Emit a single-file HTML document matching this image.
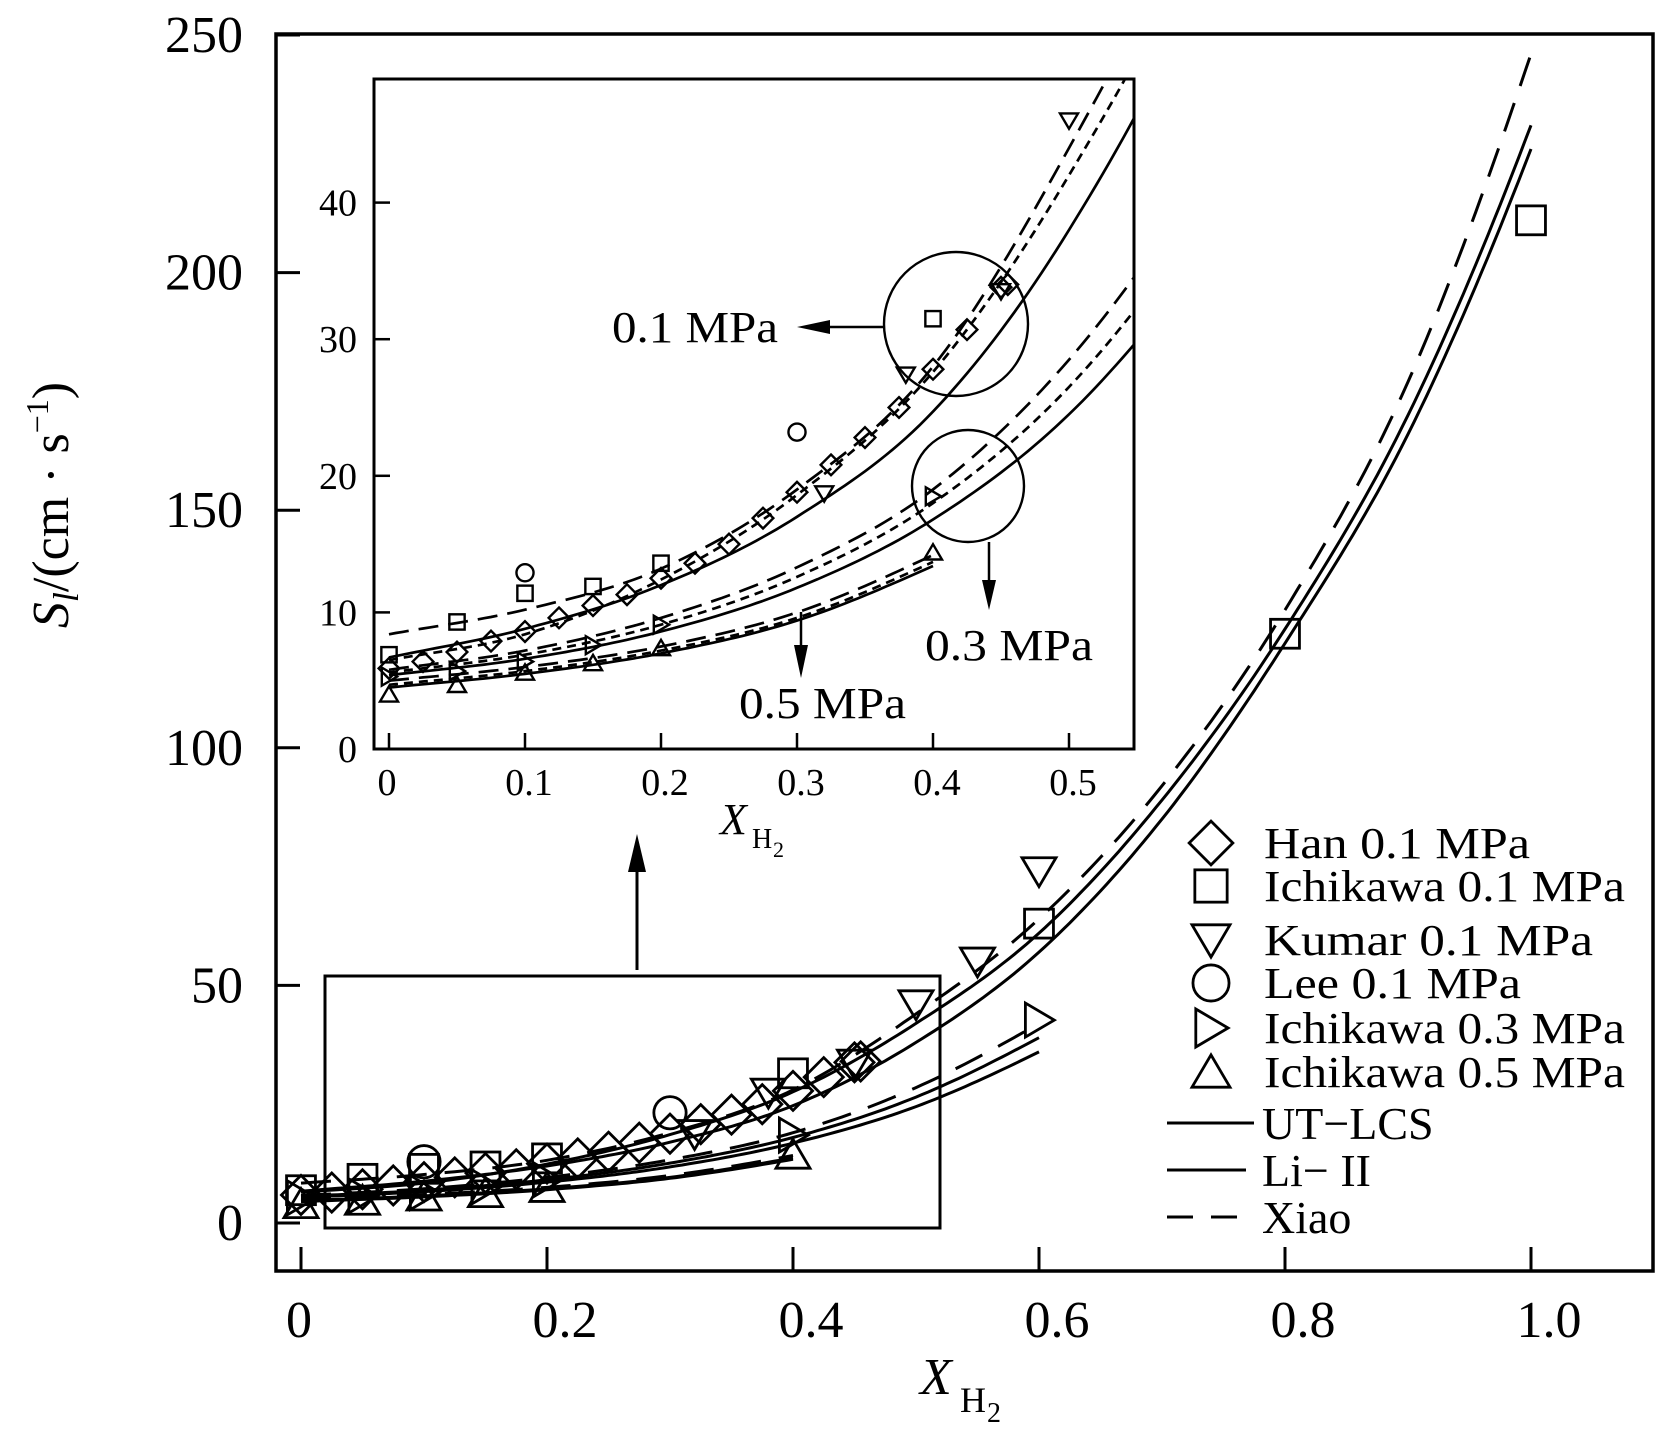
<!DOCTYPE html>
<html><head><meta charset="utf-8"><style>
html,body{margin:0;padding:0;background:#fff;}
svg{display:block;font-family:"Liberation Serif",serif;}
</style></head><body>
<svg id="chart" width="1656" height="1455" viewBox="0 0 1656 1455" xmlns="http://www.w3.org/2000/svg">
<defs>
<clipPath id="insetClip"><rect x="374" y="79" width="760" height="670"/></clipPath>
<clipPath id="mainClip"><rect x="276" y="34" width="1377" height="1237"/></clipPath>
</defs>
<g id="main"></g>
<g id="inset"></g>
<g id="legend"></g>
</svg>
<script>
// ---- data ----
const curveX = [0,0.1,0.2,0.3,0.4,0.5,0.6,0.7,0.8,0.9,1.0];
const utlcs01 = [6.7,8.8,12,17,24.7,38,57,85,122,166,226];
const li01 = [6.5,8.4,12.4,18.6,27.6,42,61,89,125,170,231];
const xiao01 = [8.4,10.2,13.2,19,28,44,64,92,129,177,246];
const utlcs03 = [5.4,6.6,8.6,11.8,16.8,24.5,36];
const li03 = [5.6,6.9,9.1,12.6,18,26.5,39];
const xiao03 = [5.8,7.2,9.6,13.3,19,28.5,42];
const utlcs05 = [4.5,5.5,7.0,9.4,13.4];
const li05 = [4.7,5.7,7.2,9.6,13.7];
const xiao05 = [5.0,6.0,7.5,10,14.2];

const hanX = [0,0.025,0.05,0.075,0.1,0.125,0.15,0.175,0.2,0.225,0.25,0.275,0.3,0.325,0.35,0.375,0.4,0.425,0.45,0.455];
const hanY = [5.9,6.4,7.1,7.9,8.6,9.6,10.5,11.3,12.5,13.6,15.0,16.9,18.8,20.8,22.8,25.0,27.8,30.7,33.8,34.0];
const ich01X = [0,0.05,0.1,0.15,0.2,0.4,0.6,0.8,1.0];
const ich01Y = [6.9,9.3,11.4,11.9,13.6,31.5,63,124,211];
const kumarX = [0.32,0.38,0.45,0.5,0.55,0.6];
const kumarY = [18.7,27.4,33.5,46,55,74];
const leeX = [0.1,0.3];
const leeY = [12.9,23.2];
const ich03X = [0,0.05,0.1,0.15,0.2,0.4,0.6];
const ich03Y = [5.3,5.7,6.4,7.6,9.1,18.5,42.7];
const ich05X = [0,0.05,0.1,0.15,0.2,0.4];
const ich05Y = [4.0,4.7,5.6,6.3,7.4,14.4];

const mainXTicks = [0,0.2,0.4,0.6,0.8,1.0];
const mainXLabels = ["0","0.2","0.4","0.6","0.8","1.0"];
const mainYTicks = [0,50,100,150,200,250];
const insetXTicks = [0,0.1,0.2,0.3,0.4,0.5];
const insetXLabels = ["0","0.1","0.2","0.3","0.4","0.5"];
const insetYTicks = [0,10,20,30,40];

// ---- scales ----
const mx = v => 301 + 1230*v;
const my = v => 1223 - 4.752*v;
const ix = v => 389 + 1360*v;
const iy = v => 749 - 13.66*v;
const NS = "http://www.w3.org/2000/svg";
function mk(parent, tag, attrs){const e=document.createElementNS(NS,tag);for(const k in attrs)e.setAttribute(k,attrs[k]);parent.appendChild(e);return e;}

function interp(ys){
  const pts=[];const n=ys.length;
  for(let i=0;i<n-1;i++){
    const p0=ys[Math.max(i-1,0)],p1=ys[i],p2=ys[i+1],p3=i+2<n?ys[i+2]:(2*ys[n-1]-ys[n-2])*1.05;
    const q0=i-1>=0?p0:2*p1-p2;
    for(let s=0;s<20;s++){const t=s/20;
      const v=0.5*((2*p1)+(-q0+p2)*t+(2*q0-5*p1+4*p2-p3)*t*t+(-q0+3*p1-3*p2+p3)*t*t*t);
      pts.push([curveX[i]+0.1*t,v]);}
  }
  pts.push([curveX[n-1],ys[n-1]]);return pts;
}
function pathD(ys,sx,sy){return interp(ys).map((p,i)=>(i?"L":"M")+sx(p[0]).toFixed(1)+","+sy(p[1]).toFixed(1)).join(" ");}

function marker(parent,type,cx,cy,s,sw){
  let e;const h=s/2;
  if(type==="diamond") e=mk(parent,"polygon",{points:`${cx},${cy-h*1.15} ${cx+h*1.15},${cy} ${cx},${cy+h*1.15} ${cx-h*1.15},${cy}`});
  else if(type==="square") e=mk(parent,"rect",{x:cx-h*0.85,y:cy-h*0.85,width:s*0.85,height:s*0.85});
  else if(type==="down") e=mk(parent,"polygon",{points:`${cx-h},${cy-h*0.8} ${cx+h},${cy-h*0.8} ${cx},${cy+h*0.9}`});
  else if(type==="up") e=mk(parent,"polygon",{points:`${cx-h},${cy+h*0.8} ${cx+h},${cy+h*0.8} ${cx},${cy-h*0.9}`});
  else if(type==="right") e=mk(parent,"polygon",{points:`${cx-h*0.8},${cy-h} ${cx-h*0.8},${cy+h} ${cx+h*0.9},${cy}`});
  else e=mk(parent,"circle",{cx:cx,cy:cy,r:h*0.95});
  e.setAttribute("fill","none");e.setAttribute("stroke","#000");e.setAttribute("stroke-width",sw);
  return e;
}
const series=[["han-marker","diamond",hanX,hanY],["ichikawa-01-marker","square",ich01X,ich01Y],["kumar-marker","down",kumarX,kumarY],["lee-marker","circle",leeX,leeY],["ichikawa-03-marker","right",ich03X,ich03Y],["ichikawa-05-marker","up",ich05X,ich05Y]];
const curves=[["utlcs-0.1",utlcs01,"ut"],["li-0.1",li01,"li"],["xiao-0.1",xiao01,"xiao"],["utlcs-0.3",utlcs03,"ut"],["li-0.3",li03,"li"],["xiao-0.3",xiao03,"xiao"],["utlcs-0.5",utlcs05,"ut"],["li-0.5",li05,"li"],["xiao-0.5",xiao05,"xiao"]];

// ---- main plot ----
const M=document.getElementById("main");
let e;
e=mk(M,"rect",{x:276,y:34,width:1377,height:1237,fill:"none",stroke:"#000","stroke-width":3.5});


mainYTicks.forEach(v=>{
  e=mk(M,"line",{x1:276,x2:300,y1:my(v),y2:my(v),stroke:"#000","stroke-width":3});
  
  
  e=mk(M,"text",{x:243,y:my(v)+17,"font-size":52,"text-anchor":"end"});e.textContent=v;
  
  
});
mainXTicks.forEach((v,i)=>{
  e=mk(M,"line",{x1:mx(v),x2:mx(v),y1:1271,y2:1247,stroke:"#000","stroke-width":3});
  
  
  e=mk(M,"text",{x:mx(v)+(i?18:-2),y:1337,"font-size":52,"text-anchor":"middle"});e.textContent=mainXLabels[i];
  
  
});
const mc=mk(M,"g",{"clip-path":"url(#mainClip)"});
curves.forEach(c=>{
  e=mk(mc,"path",{d:pathD(c[1],mx,my),fill:"none",stroke:"#000","stroke-width":3,"stroke-dasharray":c[2]==="xiao"?"30,18":"none"});
  
  
});
series.forEach(s=>{s[2].forEach((x,i)=>{
  e=marker(M,s[1],mx(x),my(s[3][i]),34,2.8);
  
  
});});
e=mk(M,"rect",{x:325,y:976,width:615,height:252,fill:"none",stroke:"#000","stroke-width":3});


e=mk(M,"line",{x1:637,x2:637,y1:970,y2:860,stroke:"#000","stroke-width":3});


e=mk(M,"polygon",{points:"637,834 628,872 646,872",fill:"#000"});


e=mk(M,"text",{x:920,y:1394,"font-size":52,"font-style":"italic"});e.textContent="X";


e=mk(M,"text",{x:960,y:1412,"font-size":36});e.textContent="H";


e=mk(M,"text",{x:987,y:1422,"font-size":28});e.textContent="2";


e=mk(M,"text",{x:0,y:0,"font-size":52,transform:"translate(68,505) rotate(-90)","text-anchor":"middle"});
e.innerHTML='<tspan font-style="italic">S</tspan><tspan font-style="italic" font-size="36" dy="10">l</tspan><tspan dy="-10">/(cm · s</tspan><tspan font-size="32" dy="-20">−1</tspan><tspan dy="20">)</tspan>';



// ---- inset ----
const I=document.getElementById("inset");
e=mk(I,"rect",{x:374,y:79,width:760,height:670,fill:"#fff",stroke:"#000","stroke-width":3});


insetYTicks.forEach(v=>{
  e=mk(I,"line",{x1:374,x2:390,y1:iy(v),y2:iy(v),stroke:"#000","stroke-width":2.5});
  
  
  e=mk(I,"text",{x:357,y:iy(v)+13,"font-size":38,"text-anchor":"end"});e.textContent=v;
  
  
});
insetXTicks.forEach((v,i)=>{
  e=mk(I,"line",{x1:ix(v),x2:ix(v),y1:749,y2:733,stroke:"#000","stroke-width":2.5});
  
  
  e=mk(I,"text",{x:ix(v)+(i?4:-2),y:795,"font-size":38,"text-anchor":"middle"});e.textContent=insetXLabels[i];
  
  
});
const ic=mk(I,"g",{"clip-path":"url(#insetClip)"});
curves.forEach(c=>{
  const da=c[2]==="xiao"?"20,10":(c[2]==="li"?"9,6":"none");
  e=mk(ic,"path",{d:pathD(c[1],ix,iy),fill:"none",stroke:"#000","stroke-width":2.7,"stroke-dasharray":da});
  
  
});
series.forEach(s=>{s[2].forEach((x,i)=>{
  if(x>0.55||s[3][i]>49) return;
  e=marker(ic,s[1],ix(x),iy(s[3][i]),18,2.4);
  
  
});});
e=mk(I,"circle",{cx:956,cy:324,r:72,fill:"none",stroke:"#000","stroke-width":2.4});


e=mk(I,"circle",{cx:968,cy:486,r:56,fill:"none",stroke:"#000","stroke-width":2.4});


e=mk(I,"line",{x1:884,x2:815,y1:327,y2:327,stroke:"#000","stroke-width":2.5});


e=mk(I,"polygon",{points:"797,327 830,320 830,334",fill:"#000"});


e=mk(I,"text",{x:612,y:342,"font-size":44,textLength:166,lengthAdjust:"spacingAndGlyphs"});e.textContent="0.1 MPa";


e=mk(I,"line",{x1:989,x2:989,y1:542,y2:590,stroke:"#000","stroke-width":2.5});


e=mk(I,"polygon",{points:"989,610 982,580 996,580",fill:"#000"});


e=mk(I,"text",{x:925,y:660,"font-size":44,textLength:168,lengthAdjust:"spacingAndGlyphs"});e.textContent="0.3 MPa";


e=mk(I,"line",{x1:801,x2:801,y1:612,y2:655,stroke:"#000","stroke-width":2.5});


e=mk(I,"polygon",{points:"801,678 794,645 808,645",fill:"#000"});


e=mk(I,"text",{x:739,y:718,"font-size":44,textLength:167,lengthAdjust:"spacingAndGlyphs"});e.textContent="0.5 MPa";


e=mk(I,"text",{x:720,y:834,"font-size":44,"font-style":"italic"});e.textContent="X";


e=mk(I,"text",{x:752,y:848,"font-size":28});e.textContent="H";


e=mk(I,"text",{x:773,y:857,"font-size":22});e.textContent="2";



// ---- legend ----
const L=document.getElementById("legend");
const legNames=["Han 0.1 MPa","Ichikawa 0.1 MPa","Kumar 0.1 MPa","Lee 0.1 MPa","Ichikawa 0.3 MPa","Ichikawa 0.5 MPa"];
const legTypes=["diamond","square","down","circle","right","up"];
const legY=[843,886,940,983,1028,1072];
const legW=[266,361,329,257,361,361];
legNames.forEach((n,i)=>{
  e=marker(L,legTypes[i],1211,legY[i],38,2.8);
  
  
  e=mk(L,"text",{x:1264,y:legY[i]+15,"font-size":44,textLength:legW[i],lengthAdjust:"spacingAndGlyphs"});e.textContent=n;
  
  
});
const lineNames=["UT−LCS","Li− II","Xiao"];
const lineY=[1123,1170,1217];
lineNames.forEach((n,i)=>{
  e=mk(L,"line",{x1:1167,x2:i==1?1246:1254,y1:lineY[i],y2:lineY[i],stroke:"#000","stroke-width":3,"stroke-dasharray":i==2?"26,18":"none"});
  
  
  e=mk(L,"text",{x:1262,y:lineY[i]+16,"font-size":46});e.textContent=n;
  
  
});
</script>
</body></html>
